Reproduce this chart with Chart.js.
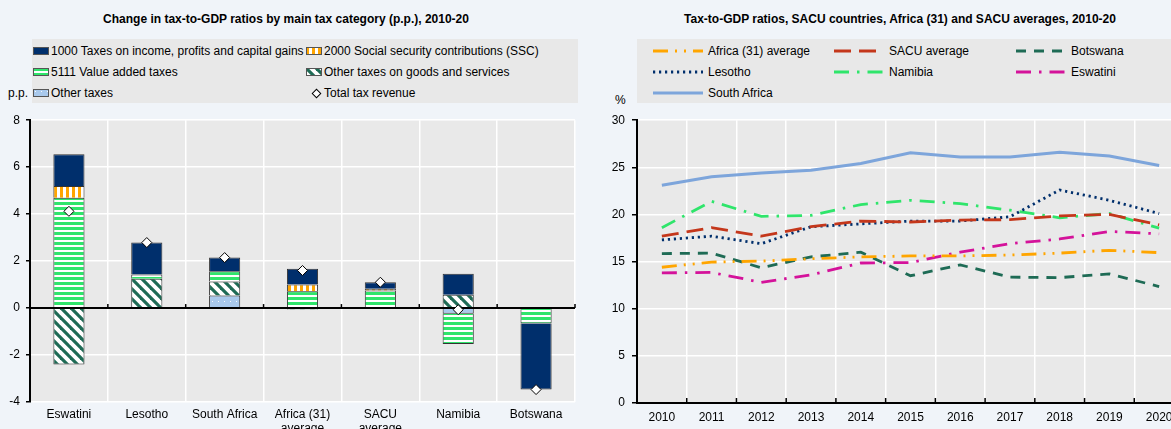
<!DOCTYPE html>
<html>
<head>
<meta charset="utf-8">
<script src="https://cdn.jsdelivr.net/npm/chart.js@4.4.1/dist/chart.umd.min.js"></script>
<style>
  body { margin: 0; width: 1171px; height: 429px; overflow: hidden; background: #f0f4f9; position: relative;
         font-family: 'Liberation Sans', Arial, sans-serif; font-size: 12px; color: #000; }
  .title { position: absolute; top: 12px; font-weight: bold; font-family: 'Liberation Sans Narrow', 'Liberation Sans', Arial, sans-serif;
           font-size: 12px; white-space: nowrap; transform: translateX(-50%); }
  .legend { position: absolute; top: 39px; height: 64px; background: #e8e8e8; }
  .item { position: absolute; display: flex; align-items: center; white-space: nowrap; height: 16px; }
  .item canvas { margin-right: 2px; }
  .unit { position: absolute; }
  #left { position: absolute; left: 0; top: 107px; width: 585px; height: 322px; }
  #right { position: absolute; left: 590px; top: 106px; width: 600px; height: 323px; }
</style>
</head>
<body>
<div class="title" style="left:286px">Change in tax-to-GDP ratios by main tax category (p.p.), 2010-20</div>
<div class="title" style="left:900px">Tax-to-GDP ratios, SACU countries, Africa (31) and SACU averages, 2010-20</div>

<div class="legend" id="legend-left" style="left:32px; width:546px"></div>
<div class="legend" id="legend-right" style="left:637px; width:540px"></div>
<div class="unit" style="left:8px; top:86px">p.p.</div>
<div class="unit" style="left:615px; top:93px">%</div>

<div id="left"><canvas id="bars"></canvas></div>
<div id="right"><canvas id="lines"></canvas></div>

<script>
// ---- datos gráfico izquierdo (p.p.) ----
const paises = ['Eswatini', 'Lesotho', 'South Africa', ['Africa (31)', 'average'], ['SACU', 'average'], 'Namibia', 'Botswana'];
const impuestoRenta = [1.35, 1.36, 0.58, 0.67, 0.28, 0.89, -2.81];
const seguridadSocial = [0.5, null, null, 0.28, 0.07, null, null];
const iva = [4.7, 0.18, 0.44, 0.72, 0.75, -1.29, -0.66];
const otrosBienes = [-2.4, 1.25, 0.6, -0.06, null, 0.57, null];
const otrosImpuestos = [null, null, 0.53, null, null, -0.24, null];
const recaudacionTotal = [4.12, 2.79, 2.15, 1.6, 1.1, -0.07, -3.47];
const ticksIzq = [-4, -2, 0, 2, 4, 6, 8];

// ---- datos gráfico derecho (%) ----
const anios = ['2010', '2011', '2012', '2013', '2014', '2015', '2016', '2017', '2018', '2019', '2020'];
const africa31 = [14.4, 14.95, 15.05, 15.3, 15.5, 15.6, 15.6, 15.7, 15.9, 16.2, 15.95];
const sacuMedia = [17.7, 18.6, 17.7, 18.7, 19.3, 19.2, 19.4, 19.45, 19.85, 20.0, 18.9];
const botswana = [15.85, 15.9, 14.35, 15.5, 16.0, 13.5, 14.65, 13.35, 13.3, 13.7, 12.35];
const lesotho = [17.3, 17.7, 16.9, 18.7, 19.0, 19.3, 19.3, 19.75, 22.6, 21.5, 20.1];
const namibia = [18.6, 21.4, 19.8, 19.9, 21.05, 21.5, 21.15, 20.45, 19.65, 20.1, 18.55];
const eswatini = [13.8, 13.85, 12.8, 13.6, 14.85, 14.9, 16.0, 16.9, 17.4, 18.2, 17.95];
const sudafrica = [23.1, 24.0, 24.4, 24.7, 25.4, 26.55, 26.1, 26.1, 26.6, 26.2, 25.2];

const AZUL = '#002f6c', NARANJA = '#ffa500', VERDE = '#2fe56b', VERDE_OSC = '#1e6b55', CELESTE = '#a9c9ec';

function crearTrama(tipo) {
    const c = document.createElement('canvas');
    const g = c.getContext('2d');
    if (tipo === 'vert') {
        c.width = 6; c.height = 6;
        g.fillStyle = '#fff'; g.fillRect(0, 0, 6, 6);
        g.fillStyle = NARANJA; g.fillRect(0, 0, 3, 6);
    } else if (tipo === 'horiz') {
        c.width = 5; c.height = 5;
        g.fillStyle = '#fff'; g.fillRect(0, 0, 5, 5);
        g.fillStyle = VERDE; g.fillRect(0, 0, 5, 3);
    } else if (tipo === 'diag') {
        c.width = 10; c.height = 10;
        g.fillStyle = '#fff'; g.fillRect(0, 0, 10, 10);
        g.strokeStyle = VERDE_OSC; g.lineWidth = 3.2;
        for (let k = -1; k <= 1; k++) {
            g.beginPath(); g.moveTo(k * 10 - 2, -2); g.lineTo(k * 10 + 12, 12); g.stroke();
        }
    } else if (tipo === 'puntos') {
        c.width = 6; c.height = 6;
        g.fillStyle = CELESTE; g.fillRect(0, 0, 6, 6);
        g.fillStyle = 'rgba(255,255,255,0.9)'; g.fillRect(2, 2, 1, 1);
    }
    return document.createElement('canvas').getContext('2d').createPattern(c, 'repeat');
}

const rellenos = {
    renta: AZUL,
    ss: crearTrama('vert'),
    iva: crearTrama('horiz'),
    bienes: crearTrama('diag'),
    otros: crearTrama('puntos')
};

const fondoPlot = {
    id: 'fondoPlot',
    beforeDraw(chart) {
        const { ctx, chartArea: a } = chart;
        ctx.save();
        ctx.fillStyle = '#e9e9e9';
        ctx.fillRect(a.left, a.top, a.right - a.left, a.bottom - a.top);
        ctx.restore();
    }
};

function marcasEje(chart, y, largo) {
    const { ctx, chartArea: a } = chart;
    const n = chart.data.labels.length;
    const paso = (a.right - a.left) / n;
    ctx.save();
    ctx.strokeStyle = '#000';
    ctx.lineWidth = 1.5;
    for (let i = 1; i <= n; i++) {
        const x = a.left + i * paso;
        ctx.beginPath(); ctx.moveTo(x, y); ctx.lineTo(x, y - largo); ctx.stroke();
    }
    ctx.restore();
}

// línea del cero (encima de las barras, debajo de los rombos)
const lineaCero = {
    id: 'lineaCero',
    beforeDatasetDraw(chart, args) {
        if (args.meta.type !== 'line') return;
        const { ctx, chartArea: a } = chart;
        const y0 = chart.scales.y.getPixelForValue(0);
        ctx.save();
        ctx.strokeStyle = '#000';
        ctx.lineWidth = 2;
        ctx.beginPath(); ctx.moveTo(a.left, y0); ctx.lineTo(a.right, y0); ctx.stroke();
        ctx.restore();
        marcasEje(chart, y0, 4);
    }
};

const marcasAbajo = {
    id: 'marcasAbajo',
    afterDraw(chart) { marcasEje(chart, chart.chartArea.bottom, 5); }
};

const fuente = { family: "'Liberation Sans', Arial, sans-serif", size: 12 };

const barra = (label, data, fill) => ({
    type: 'bar', label, data, backgroundColor: fill, borderColor: '#333', borderWidth: 1,
    barPercentage: 0.4, categoryPercentage: 1, stack: 'a', order: 1
});

new Chart(document.getElementById('bars'), {
    data: {
        labels: paises,
        datasets: [
            barra('Other taxes', otrosImpuestos, rellenos.otros),
            barra('Other taxes on goods and services', otrosBienes, rellenos.bienes),
            barra('5111 Value added taxes', iva, rellenos.iva),
            barra('2000 Social security contributions (SSC)', seguridadSocial, rellenos.ss),
            barra('1000 Taxes on income, profits and capital gains', impuestoRenta, rellenos.renta),
            {
                type: 'line', label: 'Total tax revenue', data: recaudacionTotal, showLine: false,
                pointStyle: 'rectRot', pointRadius: 5, pointBackgroundColor: '#fff',
                pointBorderColor: '#000', pointBorderWidth: 1, stack: 'total', order: 0
            }
        ]
    },
    options: {
        responsive: true, maintainAspectRatio: false, animation: false,
        layout: { padding: { top: 7, right: 10, left: 0, bottom: 0 } },
        plugins: { legend: { display: false }, tooltip: { enabled: false } },
        scales: {
            x: {
                stacked: true, offset: true,
                grid: { offset: true, color: '#fff', lineWidth: 1.5, drawTicks: false },
                border: { display: false },
                ticks: { color: '#000', font: fuente, padding: 5, maxRotation: 0, autoSkip: false },
                afterFit: s => { s.height = 27; }
            },
            y: {
                stacked: true, min: -4, max: 8,
                afterBuildTicks: s => { s.ticks = ticksIzq.map(v => ({ value: v })); },
                grid: { color: '#fff', lineWidth: 1.5, tickColor: '#000', tickLength: 4 },
                border: { display: true, color: '#000', width: 2 },
                ticks: { color: '#000', font: fuente, padding: 6 },
                afterFit: s => { s.width = 30; }
            }
        }
    },
    plugins: [fondoPlot, lineaCero]
});

const linea = (label, data, color, dash, ancho) => ({
    label, data, borderColor: color, backgroundColor: color, borderDash: dash,
    borderWidth: ancho || 2.8, pointRadius: 0, tension: 0, fill: false
});

const series = [
    linea('Africa (31) average', africa31, NARANJA, [15, 7, 2, 7, 2, 7]),
    linea('SACU average', sacuMedia, '#c4371b', [17, 8]),
    linea('Botswana', botswana, VERDE_OSC, [10, 8]),
    linea('Lesotho', lesotho, AZUL, [2.2, 3.8]),
    linea('Namibia', namibia, VERDE, [15, 8, 2.5, 8]),
    linea('Eswatini', eswatini, '#d4129a', [15, 8, 2.5, 8]),
    linea('South Africa', sudafrica, '#7da5db', [], 3)
];

new Chart(document.getElementById('lines'), {
    type: 'line',
    data: { labels: anios, datasets: series },
    options: {
        responsive: true, maintainAspectRatio: false, animation: false,
        layout: { padding: { top: 6, right: 6, left: 0, bottom: 0 } },
        plugins: { legend: { display: false }, tooltip: { enabled: false } },
        scales: {
            x: {
                offset: true,
                grid: { offset: true, color: '#fff', lineWidth: 1.5, drawTicks: false },
                border: { display: true, color: '#000', width: 2 },
                ticks: { color: '#000', font: fuente, padding: 7, maxRotation: 0, autoSkip: false },
                afterFit: s => { s.height = 26; }
            },
            y: {
                min: 0, max: 30,
                ticks: { stepSize: 5, color: '#000', font: fuente, padding: 7 },
                grid: { color: '#fff', lineWidth: 1.5, tickColor: '#000', tickLength: 5 },
                border: { display: true, color: '#000', width: 2 },
                afterFit: s => { s.width = 47; }
            }
        }
    },
    plugins: [fondoPlot, marcasAbajo]
});

// ---- leyendas ----
function muestra(dibujar, w, h) {
    const c = document.createElement('canvas');
    c.width = w; c.height = h;
    dibujar(c.getContext('2d'), w, h);
    return c;
}

function agregarItem(contenedor, x, y, canvas, texto) {
    const d = document.createElement('div');
    d.className = 'item';
    d.style.left = x + 'px';
    d.style.top = (y - 8) + 'px';
    d.appendChild(canvas);
    d.appendChild(document.createTextNode(texto));
    contenedor.appendChild(d);
}

const legIzq = document.getElementById('legend-left');
const cajita = fill => muestra((g, w, h) => {
    g.fillStyle = fill; g.fillRect(0, 0, w, h);
    g.strokeStyle = '#555'; g.lineWidth = 1; g.strokeRect(0.5, 0.5, w - 1, h - 1);
}, 16, 8);
const filas = [12, 33, 54];
agregarItem(legIzq, 1, filas[0], cajita(rellenos.renta), '1000 Taxes on income, profits and capital gains');
agregarItem(legIzq, 274, filas[0], cajita(rellenos.ss), '2000 Social security contributions (SSC)');
agregarItem(legIzq, 1, filas[1], cajita(rellenos.iva), '5111 Value added taxes');
agregarItem(legIzq, 274, filas[1], cajita(rellenos.bienes), 'Other taxes on goods and services');
agregarItem(legIzq, 1, filas[2], cajita(rellenos.otros), 'Other taxes');
agregarItem(legIzq, 279, filas[2], muestra((g) => {
    g.translate(5.5, 5.5); g.rotate(Math.PI / 4);
    g.fillStyle = '#fff'; g.fillRect(-3, -3, 6, 6);
    g.strokeStyle = '#000'; g.lineWidth = 1; g.strokeRect(-3, -3, 6, 6);
}, 11, 11), 'Total tax revenue');

const legDer = document.getElementById('legend-right');
const columnas = [16, 197, 379];
series.forEach((s, i) => {
    const c = muestra((g, w, h) => {
        g.strokeStyle = s.borderColor; g.lineWidth = s.borderWidth;
        g.setLineDash(s.borderDash);
        g.beginPath(); g.moveTo(0, h / 2); g.lineTo(w, h / 2); g.stroke();
    }, 50, 6);
    c.style.marginRight = '5px';
    agregarItem(legDer, columnas[i % 3], filas[Math.floor(i / 3)], c, s.label);
});
</script>
</body>
</html>
